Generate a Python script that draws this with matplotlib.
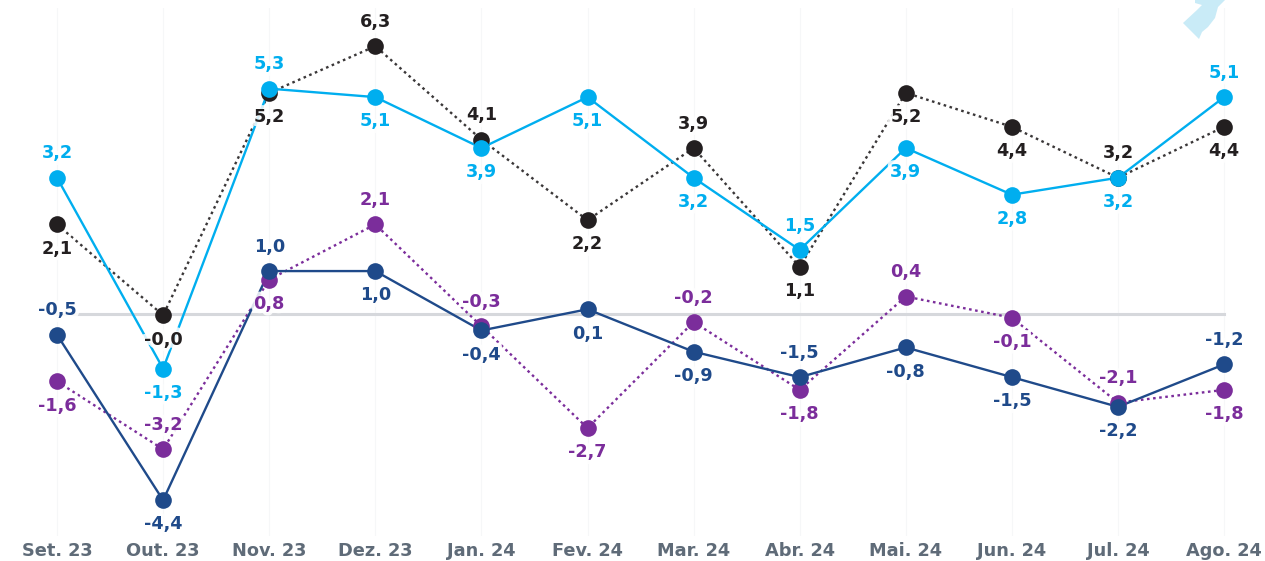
import matplotlib
matplotlib.use('Agg')
import matplotlib.pyplot as plt
import matplotlib.patheffects as pe
from matplotlib.patches import Polygon
from matplotlib.transforms import Affine2D

months = ['Set. 23', 'Out. 23', 'Nov. 23', 'Dez. 23', 'Jan. 24', 'Fev. 24',
          'Mar. 24', 'Abr. 24', 'Mai. 24', 'Jun. 24', 'Jul. 24', 'Ago. 24']

black_vals = [2.1, -0.04, 5.2, 6.3, 4.1, 2.2, 3.9, 1.1, 5.2, 4.4, 3.2, 4.4]
purple_vals = [-1.6, -3.2, 0.8, 2.1, -0.3, -2.7, -0.2, -1.8, 0.4, -0.1, -2.1, -1.8]
cyan_vals = [3.2, -1.3, 5.3, 5.1, 3.9, 5.1, 3.2, 1.5, 3.9, 2.8, 3.2, 5.1]
navy_vals = [-0.5, -4.4, 1.0, 1.0, -0.4, 0.1, -0.9, -1.5, -0.8, -1.5, -2.2, -1.2]

# +1 label above the point, -1 below
black_pos = [-1, -1, -1, 1, 1, -1, 1, -1, -1, -1, 1, -1]
purple_pos = [-1, 1, -1, 1, 1, -1, 1, -1, 1, -1, 1, -1]
cyan_pos = [1, -1, 1, -1, -1, -1, -1, 1, -1, -1, -1, 1]
navy_pos = [1, -1, 1, -1, -1, -1, -1, 1, -1, -1, -1, 1]

W, H = 1265, 561
top_px, bottom_px = 8, 536
x0_px, x_step = 57, 106.1
zero_px, y_step = 313.5, 42.43

fig = plt.figure(figsize=(W / 100, H / 100), dpi=100)
ax = fig.add_axes([0, 1 - bottom_px / H, 1, (bottom_px - top_px) / H])
ax.set_xlim(-x0_px / x_step, (W - x0_px) / x_step)
ax.set_ylim((zero_px - bottom_px) / y_step, (zero_px - top_px) / y_step)

for s in ax.spines.values():
    s.set_visible(False)
ax.set_yticks([])
ax.set_xticks(range(len(months)))
ax.set_xticklabels(months, fontsize=12.8, fontweight='bold', color='#5f6b78')
ax.tick_params(axis='x', length=0, pad=4.5)
ax.grid(axis='x', color='#f6f7f8', lw=0.8)
ax.set_axisbelow(True)

ax.plot([0, len(months) - 1], [0, 0], color='#d6d8dc', lw=2.2, zorder=1)

series = [
    (black_vals, black_pos, '#231f20', '#3a3738', (0, (1.1, 1.5))),
    (purple_vals, purple_pos, '#7b2d9b', '#7b2d9b', (0, (1.1, 1.5))),
    (cyan_vals, cyan_pos, '#00aeef', '#00aeef', '-'),
    (navy_vals, navy_pos, '#1f4a8a', '#1f4a8a', '-'),
]

for vals, pos, color, line_color, ls in series:
    ax.plot(range(len(vals)), vals, color=line_color, lw=1.7, ls=ls, zorder=3)

# halo of the labels goes over the lines but under the dots
for vals, pos, color, line_color, ls in series:
    for i, v in enumerate(vals):
        label = f'{v:.1f}'.replace('.', ',')
        ax.annotate(label, (i, v), xytext=(0, 17.5 * pos[i]),
                    textcoords='offset points', ha='center', va='center',
                    fontsize=12.7, fontweight='bold', color='white', zorder=3.5,
                    path_effects=[pe.withStroke(linewidth=6, foreground='white', alpha=0.85)])

for vals, pos, color, line_color, ls in series:
    ax.plot(range(len(vals)), vals, color=color, lw=0, marker='o', ms=12,
            mec='none', zorder=4, clip_on=False)

for vals, pos, color, line_color, ls in series:
    for i, v in enumerate(vals):
        label = f'{v:.1f}'.replace('.', ',')
        ax.annotate(label, (i, v), xytext=(0, 17.5 * pos[i]),
                    textcoords='offset points', ha='center', va='center',
                    fontsize=12.7, fontweight='bold', color=color, zorder=5)

# piece of the map in the top right corner, in pixels
map_px = [(1195, 0), (1195, 3), (1202, 5), (1197, 10), (1183, 23), (1199, 39),
          (1202, 32), (1208, 27), (1215, 18), (1218, 7), (1225, 0)]
px_to_fig = Affine2D().scale(1, -1).translate(0, H)
fig.patches.append(Polygon(map_px, closed=True, fc='#c9ebf7', ec='none',
                           transform=px_to_fig, figure=fig))

fig.savefig('out.png', dpi=100, facecolor='white')
